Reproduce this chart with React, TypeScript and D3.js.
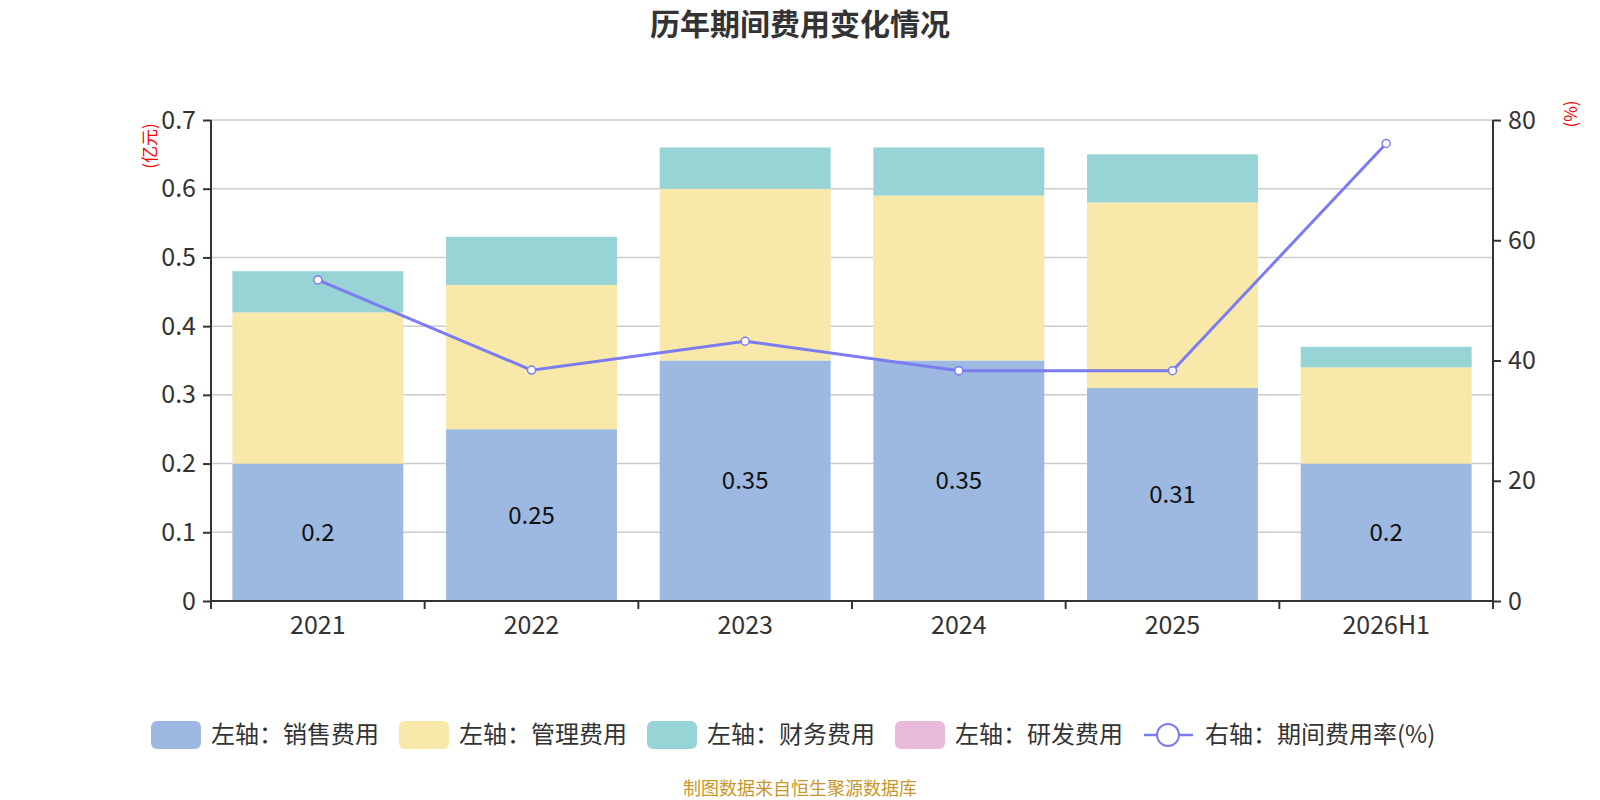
import * as d3 from 'd3'
import React from 'react'

const categories = ['2021', '2022', '2023', '2024', '2025', '2026H1']
const salesCost = [0.2, 0.25, 0.35, 0.35, 0.31, 0.2]
const adminCost = [0.22, 0.21, 0.25, 0.24, 0.27, 0.14]
const financeCost = [0.06, 0.07, 0.06, 0.07, 0.07, 0.03]
const rdCost = [0, 0, 0, 0, 0, 0]
const expenseRate = [53.4, 38.4, 43.2, 38.3, 38.3, 76.1]
const leftTicks = [0, 0.1, 0.2, 0.3, 0.4, 0.5, 0.6, 0.7]
const rightTicks = [0, 20, 40, 60, 80]

const seriesNames = ['左轴：销售费用', '左轴：管理费用', '左轴：财务费用', '左轴：研发费用']
const seriesColors = ['#9db8e1', '#f8e8a9', '#98d4d5', '#e8b9d9']
const lineColor = '#7b7cf2'
const lineName = '右轴：期间费用率(%)'

const W = 1600
const H = 800
const margin = { top: 120, right: 107, bottom: 199, left: 211 }
const font = '"Noto Sans CJK SC", "Noto Sans", sans-serif'

export default function App() {
    const svgRef = React.useRef<SVGSVGElement | null>(null)

    React.useEffect(() => {
        const svg = d3.select(svgRef.current)
        svg.selectAll('*').remove()

        const x = d3
            .scaleBand()
            .domain(categories)
            .range([margin.left, W - margin.right])
            .paddingInner(0.2)
            .paddingOuter(0.1)
        const y = d3.scaleLinear().domain([0, 0.7]).range([H - margin.bottom, margin.top])
        const y2 = d3.scaleLinear().domain([0, 80]).range([H - margin.bottom, margin.top])

        // grid
        svg.append('g')
            .selectAll('line')
            .data(leftTicks.slice(1))
            .join('line')
            .attr('x1', margin.left)
            .attr('x2', W - margin.right)
            .attr('y1', (d) => y(d))
            .attr('y2', (d) => y(d))
            .attr('stroke', '#cccccc')
            .attr('stroke-width', 1.5)

        // stacked bars
        const rows = categories.map((c, i) => ({
            cat: c,
            s0: salesCost[i],
            s1: adminCost[i],
            s2: financeCost[i],
            s3: rdCost[i],
        }))
        const stacked = d3.stack<any>().keys(['s0', 's1', 's2', 's3'])(rows)

        svg.append('g')
            .selectAll('g')
            .data(stacked)
            .join('g')
            .attr('fill', (d, i) => seriesColors[i])
            .selectAll('rect')
            .data((d) => d)
            .join('rect')
            .attr('x', (d) => x(d.data.cat) || 0)
            .attr('width', x.bandwidth())
            .attr('y', (d) => y(d[1]))
            .attr('height', (d) => y(d[0]) - y(d[1]))

        // bar labels (sales)
        svg.append('g')
            .selectAll('text')
            .data(stacked[0])
            .join('text')
            .attr('x', (d) => (x(d.data.cat) || 0) + x.bandwidth() / 2)
            .attr('y', (d) => (y(d[0]) + y(d[1])) / 2)
            .attr('dy', '0.35em')
            .attr('text-anchor', 'middle')
            .attr('font-size', 24)
            .attr('fill', '#111')
            .text((d) => String(d.data.s0))

        // left axis
        const axL = svg
            .append('g')
            .attr('transform', `translate(${margin.left},0)`)
            .call(d3.axisLeft(y).tickValues(leftTicks).tickFormat((d) => String(d)).tickSize(8).tickPadding(7))
        // right axis
        const axR = svg
            .append('g')
            .attr('transform', `translate(${W - margin.right},0)`)
            .call(d3.axisRight(y2).tickValues(rightTicks).tickSize(8).tickPadding(7))
        // bottom axis
        const xTicks = d3.range(categories.length + 1).map((i) => margin.left + (i * (W - margin.right - margin.left)) / categories.length)
        const axB = svg.append('g').attr('transform', `translate(0,${H - margin.bottom})`)
        axB.append('line')
            .attr('x1', margin.left)
            .attr('x2', W - margin.right)
            .attr('stroke', '#333')
            .attr('stroke-width', 2)
        axB.selectAll('line.tk')
            .data(xTicks)
            .join('line')
            .attr('class', 'tk')
            .attr('x1', (d) => d)
            .attr('x2', (d) => d)
            .attr('y2', 8)
            .attr('stroke', '#333')
            .attr('stroke-width', 2)
        axB.selectAll('text')
            .data(categories)
            .join('text')
            .attr('x', (d) => (x(d) || 0) + x.bandwidth() / 2)
            .attr('y', 33)
            .attr('text-anchor', 'middle')
            .attr('font-size', 25)
            .attr('fill', '#333')
            .text((d) => d)

        ;[axL, axR].forEach((ax) => {
            ax.select('.domain').attr('stroke', '#333').attr('stroke-width', 2)
            ax.selectAll('.tick line').attr('stroke', '#333').attr('stroke-width', 2)
            ax.selectAll('.tick text').attr('font-size', 25).attr('fill', '#333').attr('font-family', font)
        })
        axL.select('.domain').attr('d', `M0,${H - margin.bottom}V${margin.top}`)
        axR.select('.domain').attr('d', `M0,${H - margin.bottom}V${margin.top}`)

        // line
        const line = d3
            .line<number>()
            .x((d, i) => (x(categories[i]) || 0) + x.bandwidth() / 2)
            .y((d) => y2(d))
        svg.append('path')
            .datum(expenseRate)
            .attr('d', line)
            .attr('fill', 'none')
            .attr('stroke', lineColor)
            .attr('stroke-width', 3)
        svg.append('g')
            .selectAll('circle')
            .data(expenseRate)
            .join('circle')
            .attr('cx', (d, i) => (x(categories[i]) || 0) + x.bandwidth() / 2)
            .attr('cy', (d) => y2(d))
            .attr('r', 4)
            .attr('fill', '#fff')
            .attr('stroke', lineColor)
            .attr('stroke-width', 1.5)

        // axis unit labels
        svg.append('text')
            .attr('transform', `translate(150,146) rotate(-90)`)
            .attr('text-anchor', 'middle')
            .attr('dy', '0.35em')
            .attr('font-size', 17)
            .attr('fill', 'red')
            .text('(亿元)')
        svg.append('text')
            .attr('transform', `translate(1571,114) rotate(-90)`)
            .attr('text-anchor', 'middle')
            .attr('dy', '0.35em')
            .attr('font-size', 17)
            .attr('fill', 'red')
            .text('(%)')

        // title
        svg.append('text')
            .attr('x', 800)
            .attr('y', 35)
            .attr('text-anchor', 'middle')
            .attr('font-size', 30)
            .attr('font-weight', 'bold')
            .attr('fill', '#333')
            .text('历年期间费用变化情况')

        // legend
        const legendX = [151, 399, 647, 895]
        const lg = svg.append('g')
        seriesNames.forEach((name, i) => {
            lg.append('rect')
                .attr('x', legendX[i])
                .attr('y', 721)
                .attr('width', 50)
                .attr('height', 28)
                .attr('rx', 6)
                .attr('fill', seriesColors[i])
            lg.append('text')
                .attr('x', legendX[i] + 60)
                .attr('y', 735)
                .attr('dy', '0.35em')
                .attr('font-size', 24)
                .attr('fill', '#333')
                .text(name)
        })
        lg.append('line')
            .attr('x1', 1144)
            .attr('x2', 1193)
            .attr('y1', 735)
            .attr('y2', 735)
            .attr('stroke', lineColor)
            .attr('stroke-width', 2.5)
        lg.append('circle')
            .attr('cx', 1168)
            .attr('cy', 735)
            .attr('r', 11)
            .attr('fill', '#fff')
            .attr('stroke', lineColor)
            .attr('stroke-width', 2)
        lg.append('text')
            .attr('x', 1205)
            .attr('y', 735)
            .attr('dy', '0.35em')
            .attr('font-size', 24)
            .attr('fill', '#333')
            .text(lineName)

        // footer
        svg.append('text')
            .attr('x', 800)
            .attr('y', 795)
            .attr('text-anchor', 'middle')
            .attr('font-size', 18)
            .attr('fill', '#c8962a')
            .text('制图数据来自恒生聚源数据库')
    }, [])

    return (
        <svg
            ref={svgRef}
            width={W}
            height={H}
            viewBox={`0 0 ${W} ${H}`}
            style={{ position: 'absolute', left: 0, top: 0, fontFamily: font, background: '#fff' }}
        />
    )
}
